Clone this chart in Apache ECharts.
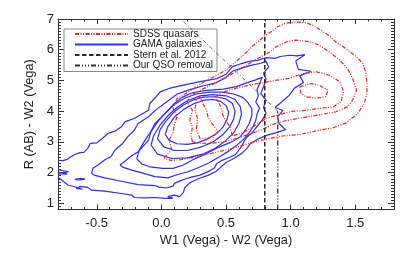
<!DOCTYPE html>
<html><head><meta charset="utf-8">
<script src="https://cdn.jsdelivr.net/npm/echarts@6/dist/echarts.min.js"></script>
<style>html,body{margin:0;padding:0;background:#fff}#c{width:407px;height:255px}</style>
</head><body><div id="c"></div>
<script>
// tick labels
const xMajorTicks=[-0.5,0,0.5,1,1.5];
const yMajorTicks=[1,2,3,4,5,6,7];
const legendNames=['SDSS quasars','GAMA galaxies','Stern et al. 2012','Our QSO removal'];

// GAMA galaxies contours (outer -> inner)
const gama1=[[-0.80,2.40],[-0.76,2.39],[-0.73,2.43],[-0.70,2.52],[-0.67,2.59],[-0.63,2.65],[-0.60,2.66],[-0.57,2.79],[-0.55,2.95],[-0.50,2.97],[-0.46,3.10],[-0.41,3.28],[-0.36,3.35],[-0.31,3.49],[-0.28,3.66],[-0.21,3.76],[-0.14,3.93],[-0.10,4.03],[-0.09,4.25],[-0.04,4.47],[-0.01,4.63],[0.06,4.74],[0.17,4.85],[0.30,4.96],[0.43,5.06],[0.50,5.20],[0.55,5.45],[0.62,5.55],[0.68,5.62],[0.75,5.66],[0.81,5.74],[0.88,5.72],[0.92,5.78],[0.99,5.82],[1.05,5.80],[1.11,5.84],[1.04,5.63],[1.06,5.36],[1.16,5.30],[1.07,5.15],[1.10,4.93],[1.03,4.75],[0.99,4.52],[0.93,4.30],[0.88,4.12],[0.94,4.02],[0.90,3.82],[0.91,3.60],[0.96,3.40],[0.89,3.30],[0.82,3.22],[0.75,3.10],[0.69,2.95],[0.66,2.78],[0.62,2.62],[0.56,2.46],[0.50,2.33],[0.46,2.18],[0.42,2.03],[0.36,1.91],[0.29,1.81],[0.22,1.67],[0.18,1.50],[0.17,1.35],[0.14,1.22],[0.10,1.27],[0.05,1.22],[0.09,1.16],[0.03,1.16],[-0.05,1.19],[-0.13,1.18],[-0.21,1.19],[-0.23,1.27],[-0.31,1.32],[-0.44,1.40],[-0.54,1.43],[-0.57,1.52],[-0.63,1.55],[-0.66,1.49],[-0.61,1.46],[-0.67,1.54],[-0.72,1.59],[-0.76,1.72],[-0.80,1.85]];
const gama2=[[-0.54,1.97],[-0.53,2.14],[-0.49,2.25],[-0.44,2.41],[-0.39,2.52],[-0.36,2.73],[-0.30,2.95],[-0.26,3.17],[-0.21,3.38],[-0.18,3.60],[-0.10,3.82],[-0.04,4.05],[0.04,4.30],[0.12,4.55],[0.22,4.70],[0.32,4.82],[0.42,4.92],[0.50,5.10],[0.55,5.30],[0.62,5.40],[0.70,5.50],[0.77,5.56],[0.81,5.62],[0.83,5.44],[0.79,5.23],[0.81,5.05],[0.80,4.90],[0.77,4.58],[0.81,4.36],[0.79,4.12],[0.81,3.93],[0.78,3.71],[0.75,3.55],[0.72,3.40],[0.70,3.28],[0.66,3.15],[0.64,3.02],[0.62,2.85],[0.59,2.68],[0.57,2.58],[0.53,2.50],[0.47,2.40],[0.43,2.30],[0.41,2.15],[0.37,2.05],[0.30,1.92],[0.24,1.86],[0.19,1.80],[0.15,1.74],[0.10,1.65],[0.09,1.56],[0.04,1.50],[-0.02,1.53],[-0.05,1.58],[-0.18,1.61],[-0.31,1.72],[-0.44,1.83],[-0.52,1.92],[-0.54,1.97]];
const gama3=[[-0.32,2.25],[-0.28,2.38],[-0.23,2.55],[-0.18,2.68],[-0.14,2.86],[-0.10,3.05],[-0.08,3.35],[-0.05,3.60],[0.00,3.80],[0.05,4.02],[0.10,4.25],[0.16,4.45],[0.24,4.60],[0.35,4.68],[0.48,4.72],[0.58,4.80],[0.66,4.92],[0.73,5.02],[0.78,5.10],[0.76,4.90],[0.74,4.70],[0.75,4.50],[0.73,4.30],[0.76,4.10],[0.74,3.90],[0.73,3.70],[0.71,3.50],[0.68,3.30],[0.64,3.10],[0.58,2.88],[0.52,2.70],[0.45,2.52],[0.37,2.32],[0.28,2.15],[0.20,2.02],[0.12,1.93],[0.05,1.83],[-0.05,1.87],[-0.13,1.97],[-0.23,2.08],[-0.30,2.18],[-0.32,2.25]];
const gama4=[[-0.19,2.45],[-0.17,2.75],[-0.12,3.10],[-0.07,3.40],[-0.02,3.70],[0.04,3.98],[0.10,4.22],[0.18,4.42],[0.27,4.56],[0.37,4.62],[0.47,4.62],[0.56,4.56],[0.63,4.45],[0.67,4.28],[0.70,4.08],[0.70,3.85],[0.68,3.60],[0.65,3.38],[0.61,3.17],[0.55,3.01],[0.45,2.84],[0.35,2.62],[0.24,2.41],[0.17,2.25],[0.09,2.14],[0.01,2.14],[-0.09,2.19],[-0.15,2.28],[-0.19,2.45]];
const gama5=[[-0.08,2.90],[-0.06,3.20],[-0.01,3.55],[0.05,3.85],[0.12,4.12],[0.20,4.34],[0.30,4.50],[0.40,4.54],[0.50,4.50],[0.57,4.38],[0.61,4.15],[0.62,3.90],[0.60,3.60],[0.56,3.30],[0.50,3.05],[0.42,2.80],[0.32,2.60],[0.20,2.48],[0.08,2.46],[-0.03,2.60],[-0.08,2.90]];
const gama6=[[-0.03,3.10],[-0.01,3.40],[0.04,3.70],[0.10,3.98],[0.17,4.20],[0.25,4.37],[0.33,4.46],[0.42,4.47],[0.50,4.40],[0.55,4.25],[0.57,4.00],[0.56,3.75],[0.53,3.50],[0.48,3.25],[0.40,3.00],[0.30,2.82],[0.20,2.72],[0.10,2.72],[0.02,2.84],[-0.03,3.10]];
const gama7=[[0.03,3.25],[0.05,3.50],[0.10,3.80],[0.17,4.05],[0.25,4.24],[0.33,4.36],[0.40,4.38],[0.46,4.32],[0.50,4.18],[0.52,3.98],[0.51,3.75],[0.48,3.50],[0.43,3.28],[0.36,3.10],[0.28,2.97],[0.20,2.92],[0.12,2.94],[0.06,3.05],[0.03,3.25]];
const gamaEdge=[[-0.80,2.10],[-0.76,2.06],[-0.72,2.03],[-0.76,1.99],[-0.73,1.95],[-0.80,1.96]];
const gamaBlob=[[-0.67,1.78],[-0.63,1.81],[-0.59,1.79],[-0.63,1.76],[-0.67,1.78]];

// SDSS quasar contours (outer -> inner)
const sdss1=[[0.02,2.48],[0.08,2.75],[0.06,3.05],[0.09,3.30],[0.10,3.55],[0.12,3.82],[0.09,4.10],[0.12,4.40],[0.19,4.58],[0.27,4.79],[0.35,5.01],[0.43,5.17],[0.50,5.34],[0.55,5.52],[0.60,5.70],[0.65,5.88],[0.70,6.10],[0.76,6.30],[0.80,6.45],[0.86,6.62],[0.90,6.75],[0.96,6.86],[1.04,6.90],[1.12,6.88],[1.18,6.78],[1.24,6.62],[1.30,6.45],[1.35,6.25],[1.43,6.03],[1.51,5.77],[1.56,5.55],[1.58,5.28],[1.59,4.95],[1.59,4.58],[1.57,4.25],[1.52,3.93],[1.43,3.62],[1.33,3.46],[1.22,3.38],[1.07,3.24],[0.95,3.20],[0.84,3.12],[0.72,3.00],[0.60,2.85],[0.48,2.72],[0.36,2.60],[0.25,2.50],[0.15,2.42],[0.07,2.40],[0.02,2.48]];
const sdss2=[[0.24,3.00],[0.23,3.20],[0.24,3.49],[0.22,3.71],[0.24,4.03],[0.20,4.30],[0.22,4.50],[0.30,4.68],[0.40,4.88],[0.50,5.10],[0.60,5.35],[0.68,5.55],[0.76,5.75],[0.84,5.93],[0.89,6.10],[0.97,6.26],[1.04,6.31],[1.15,6.26],[1.22,6.15],[1.30,5.93],[1.38,5.66],[1.44,5.39],[1.48,5.07],[1.51,4.69],[1.48,4.36],[1.44,4.14],[1.35,3.98],[1.22,3.88],[1.07,3.77],[0.95,3.68],[0.85,3.55],[0.78,3.40],[0.68,3.25],[0.58,3.11],[0.48,3.00],[0.37,2.95],[0.28,2.96],[0.24,3.00]];
const sdss3=[[0.55,3.20],[0.53,3.49],[0.48,3.82],[0.46,4.14],[0.42,4.47],[0.48,4.62],[0.58,4.75],[0.68,4.85],[0.78,4.92],[0.88,5.00],[0.99,5.07],[1.10,5.23],[1.20,5.28],[1.30,5.17],[1.38,4.96],[1.41,4.63],[1.39,4.31],[1.33,4.14],[1.22,4.09],[1.12,4.03],[1.02,4.00],[0.92,3.90],[0.82,3.78],[0.75,3.60],[0.68,3.42],[0.62,3.28],[0.55,3.20]];
const sdss4=[[0.30,3.10],[0.27,3.40],[0.28,3.75],[0.26,4.05],[0.27,4.35],[0.30,4.47],[0.32,4.25],[0.35,4.03],[0.36,3.82],[0.39,3.60],[0.44,3.35],[0.40,3.15],[0.30,3.10]];
const sdss5=[[1.07,4.79],[1.15,4.90],[1.22,4.85],[1.29,4.68],[1.27,4.47],[1.20,4.42],[1.12,4.47],[1.08,4.58],[1.07,4.79]];

// selection lines
const sternLine=[[0.8,0.8],[0.8,7.0]];
const qsoVertical=[[0.9,0.8],[0.9,4.0]];
const qsoDiagonal=[[0.9,4.0],[0.15,7.0]];

const FONT='"Liberation Sans", Arial, sans-serif';
const AX='#333';
const BLUE='#2e2eff';
const RED='#ff1f1f';
const redDash=[4,1.5,1,1.5,1,1.5];
const qsoDash=[5,2,1,2,1,2,1,2];
const rect={left:58,right:13,top:19,bottom:45.5};

function lineSeries(name,data,color,type,width,z){
  return {type:'line',name:name,data:data,xAxisIndex:0,yAxisIndex:0,symbol:'none',showSymbol:false,
    lineStyle:{color:color,width:width,type:type},itemStyle:{color:color},silent:true,animation:false,clip:true,z:z||2};
}
const series=[];
[gama1,gama2,gama3,gama4,gama5,gama6,gama7,gamaEdge,gamaBlob].forEach(d=>series.push(lineSeries('GAMA galaxies',d,BLUE,'solid',1.2,2)));
[sdss1,sdss2,sdss3,sdss4,sdss5].forEach(d=>series.push(lineSeries('SDSS quasars',d,RED,redDash,1.2,3)));
series.push(lineSeries('Stern et al. 2012',sternLine,'#2a2a2a',[4.5,2.5],1.5,4));
series.push(lineSeries('Our QSO removal',qsoVertical,'#333',qsoDash,1.3,4));
series.push(lineSeries('qso-diag',qsoDiagonal,'#555',[4,2,1,2],0.8,4));

function xAx(grid,pos,major){
  return {gridIndex:grid,type:'value',position:pos,min:-0.8,max:1.8,interval:0.1,
    axisLine:{show:major,onZero:false,lineStyle:{color:AX,width:1}},
    axisTick:major?{show:true,inside:true,length:5,customValues:xMajorTicks,lineStyle:{color:AX}}:{show:true,inside:true,length:2.5,lineStyle:{color:AX}},
    axisLabel:(major&&pos==='bottom')?{show:true,customValues:xMajorTicks,formatter:v=>v.toFixed(1),fontSize:13,fontFamily:FONT,color:'#222',margin:7}:{show:false},
    splitLine:{show:false},
    name:(major&&pos==='bottom')?'W1 (Vega) - W2 (Vega)':'',nameLocation:'middle',nameGap:17,
    nameTextStyle:{fontSize:12.8,fontFamily:FONT,color:'#222'}};
}
function yAx(grid,pos,major){
  return {gridIndex:grid,type:'value',position:pos,min:0.8,max:7.0,interval:0.1,
    axisLine:{show:major,onZero:false,lineStyle:{color:AX,width:1}},
    axisTick:major?{show:true,inside:true,length:6,customValues:yMajorTicks,lineStyle:{color:AX}}:{show:true,inside:true,length:3,lineStyle:{color:AX}},
    axisLabel:(major&&pos==='left')?{show:true,customValues:yMajorTicks,formatter:v=>String(Math.round(v)),fontSize:13,fontFamily:FONT,color:'#222',margin:4}:{show:false},
    splitLine:{show:false},
    name:(major&&pos==='left')?'R (AB) - W2 (Vega)':'',nameLocation:'middle',nameGap:20,
    nameTextStyle:{fontSize:12.8,fontFamily:FONT,color:'#222'}};
}

const chart=echarts.init(document.getElementById('c'),null,{renderer:'canvas'});
chart.setOption({
  animation:false,
  backgroundColor:'#fff',
  grid:[Object.assign({},rect),Object.assign({},rect)],
  xAxis:[xAx(0,'bottom',true),xAx(0,'top',true),xAx(1,'bottom',false),xAx(1,'top',false)],
  yAxis:[yAx(0,'left',true),yAx(0,'right',true),yAx(1,'left',false),yAx(1,'right',false)],
  legend:{data:legendNames,left:64,top:29,orient:'vertical',itemWidth:53,itemHeight:8,itemGap:0.5,
    padding:[0,4,1,10],backgroundColor:'#fff',borderColor:'#888',borderWidth:1,selectedMode:false,
    itemStyle:{opacity:0},
    textStyle:{fontFamily:FONT,fontSize:10,color:'#222',lineHeight:10}},
  series:series
});
</script></body></html>
